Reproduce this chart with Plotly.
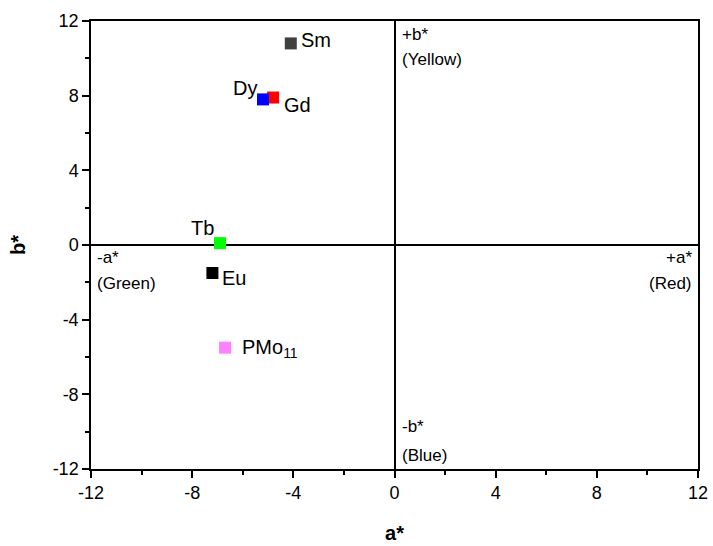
import plotly.graph_objects as go

names = ["Sm", "Gd", "Dy", "Tb", "Eu", "PMo<sub>11</sub>"]
a_vals = [-4.1, -4.8, -5.2, -6.9, -7.2, -6.7]
b_vals = [10.8, 7.9, 7.8, 0.1, -1.5, -5.5]
colors = ["#404040", "#ff0000", "#0000ff", "#00ff00", "#000000", "#ff80ff"]
# label placement: (xanchor, xshift, yshift)
label_place = [("left", 8, 3), ("left", 9, -7), ("right", -4, 11), ("right", -4, 15), ("left", 8, -5), ("left", 15, -1)]

FONT = "Liberation Sans, Arial, sans-serif"

fig = go.Figure()
fig.add_trace(go.Scatter(
    x=a_vals, y=b_vals, mode="markers",
    marker=dict(symbol="square", size=12, color=colors, line=dict(width=0)),
    showlegend=False, cliponaxis=False))

for n, a, b, (xa, xs, ys) in zip(names, a_vals, b_vals, label_place):
    fig.add_annotation(x=a, y=b, text=n, showarrow=False, xanchor=xa, yanchor="middle",
                       xshift=xs, yshift=ys, font=dict(family=FONT, size=20, color="black"))

tick_vals = [-12, -8, -4, 0, 4, 8, 12]
tick_text = ["-12", "-8", "-4", "0", "4", "8", "12"]

axis_common = dict(
    range=[-12, 12], tickvals=tick_vals, ticktext=tick_text,
    ticks="outside", ticklen=7, tickwidth=1.5, tickcolor="black",
    showline=True, linecolor="black", linewidth=1.5, mirror=True,
    showgrid=False, zeroline=True, zerolinecolor="black", zerolinewidth=2,
    tickfont=dict(family=FONT, size=18, color="black"),
    minor=dict(dtick=2, ticks="outside", ticklen=4, tickwidth=1.5, tickcolor="black", showgrid=False),
    automargin=False,
)

fig.update_xaxes(**axis_common, title=dict(text="<b>a*</b>", font=dict(family=FONT, size=20, color="black"), standoff=24))
fig.update_yaxes(**axis_common, title=dict(text="<b>b*</b>", font=dict(family=FONT, size=20, color="black"), standoff=22))

ann_font = dict(family=FONT, size=17, color="black")
anns = [
    ("-a*", -11.85, -0.65, "left"), ("(Green)", -11.85, -2.05, "left"),
    ("+a*", 11.85, -0.65, "right"), ("(Red)", 11.85, -2.05, "right"),
    ("+b*", 0.2, 11.3, "left"), ("(Yellow)", 0.2, 9.95, "left"),
    ("-b*", 0.2, -9.7, "left"), ("(Blue)", 0.2, -11.25, "left"),
]
for t, x, y, al in anns:
    fig.add_annotation(x=x, y=y, text=t, showarrow=False, xanchor=al, yanchor="middle", font=ann_font)

fig.update_layout(
    width=713, height=546,
    margin=dict(l=91, r=15, t=21, b=77),
    plot_bgcolor="white", paper_bgcolor="white",
)

fig.write_html("out.html")
